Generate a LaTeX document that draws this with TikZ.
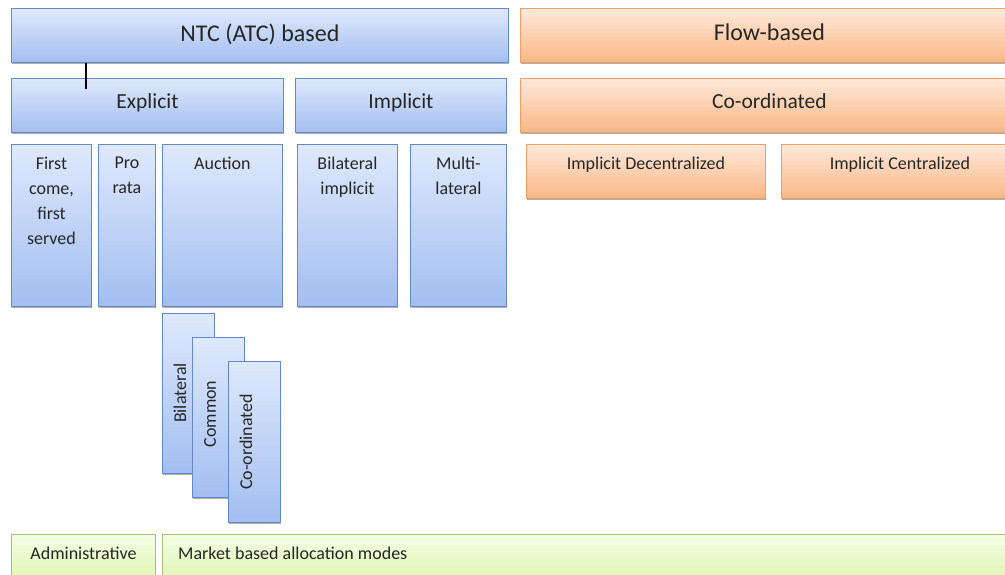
\documentclass[tikz,border=0pt]{standalone}
\usepackage{fontspec}
\setmainfont{Carlito}
\usetikzlibrary{shadows}
\definecolor{btop}{HTML}{DFE9FC}
\definecolor{bbot}{HTML}{A3BEF0}
\definecolor{bline}{HTML}{6289CC}
\definecolor{otop}{HTML}{FEE9DA}
\definecolor{obot}{HTML}{F9B785}
\definecolor{oline}{HTML}{F09E62}
\definecolor{gtop}{HTML}{F4FDE4}
\definecolor{gbot}{HTML}{D8F4A4}
\definecolor{gline}{HTML}{A2C170}
\definecolor{txt}{HTML}{262626}
\tikzset{
  base/.style={draw, line width=0.9pt, anchor=north west, inner sep=0pt, text=txt,
    drop shadow={shadow xshift=0.8pt, shadow yshift=-2pt, opacity=0.45, fill=black!70}},
  bluebox/.style={base, draw=bline, top color=btop, bottom color=bbot},
  orangebox/.style={base, draw=oline, top color=otop, bottom color=obot},
  greenbox/.style={base, draw=gline, top color=gtop, bottom color=gbot},
  bigtext/.style={font=\fontsize{24}{28}\selectfont},
  midtext/.style={font=\fontsize{21.5}{26}\selectfont},
  toplab/.style={label={[anchor=north, inner sep=0pt, yshift=-13pt, align=center, text=txt, font=\fontsize{18}{25}\selectfont]north:#1}},
  rottext/.style={rotate=90, inner sep=0pt, text=txt, font=\fontsize{18}{25}\selectfont},
}
\begin{document}
\begin{tikzpicture}[x=1pt,y=-1pt]
\useasboundingbox (0,0) rectangle (1005,575);
\clip (0,0) rectangle (1005,575);
% row 1
\node[bluebox, bigtext, minimum width=497pt, minimum height=54pt] (ntc) at (11,8) {\raisebox{6pt}{NTC (ATC) based}};
\node[orangebox, bigtext, minimum width=498pt, minimum height=54pt] (flow) at (520,8) {\raisebox{6pt}{Flow-based}};
% row 2
\node[bluebox, midtext, minimum width=272pt, minimum height=54pt] (expl) at (11,78) {\raisebox{8pt}{Explicit}};
\node[bluebox, midtext, minimum width=211pt, minimum height=54pt] (impl) at (295,78) {\raisebox{8pt}{Implicit}};
\node[orangebox, midtext, minimum width=498pt, minimum height=54pt] (coord) at (520,78) {\raisebox{8pt}{Co-ordinated}};
\coordinate (tick) at (86,89);
\draw[line width=1.2pt, black] (ntc.south -| tick) -- (tick);
% row 3
\node[bluebox, minimum width=80pt, minimum height=162pt, toplab={First\\come,\\first\\served}] (fcfs) at (11,144) {};
\node[bluebox, minimum width=57pt, minimum height=162pt, toplab={Pro\\rata}] (pro) at (98,144) {};
\node[bluebox, minimum width=120pt, minimum height=162pt, toplab={Auction}] (auc) at (162,144) {};
\node[bluebox, minimum width=100pt, minimum height=162pt, toplab={Bilateral\\implicit}] (bil) at (297,144) {};
\node[bluebox, minimum width=96pt, minimum height=162pt, toplab={Multi-\\lateral}] (mul) at (410,144) {};
\node[orangebox, minimum width=239pt, minimum height=54pt, toplab={Implicit Decentralized}] (idec) at (526,144) {};
\node[orangebox, minimum width=237pt, minimum height=54pt, toplab={Implicit Centralized}] (icen) at (781,144) {};
% auction sub-boxes
\node[bluebox, minimum width=52pt, minimum height=160pt] (vbil) at (162,313) {};
\node[rottext] (tbil) at (180,393) {Bilateral};
\node[bluebox, minimum width=52pt, minimum height=160pt] (vcom) at (192,337) {};
\node[rottext] (tcom) at (210,414) {Common};
\node[bluebox, minimum width=52pt, minimum height=161pt] (vcoo) at (228,361) {};
\node[rottext] (tcoo) at (246,442) {Co-ordinated};
% bottom row
\node[greenbox, minimum width=144pt, minimum height=60pt, toplab={Administrative}] (adm) at (11,534) {};
\node[greenbox, minimum width=856pt, minimum height=60pt,
  label={[anchor=north west, inner sep=0pt, xshift=16pt, yshift=-13pt, text=txt, font=\fontsize{18}{25}\selectfont]north west:Market based allocation modes}] (mkt) at (162,534) {};
\end{tikzpicture}
\end{document}
